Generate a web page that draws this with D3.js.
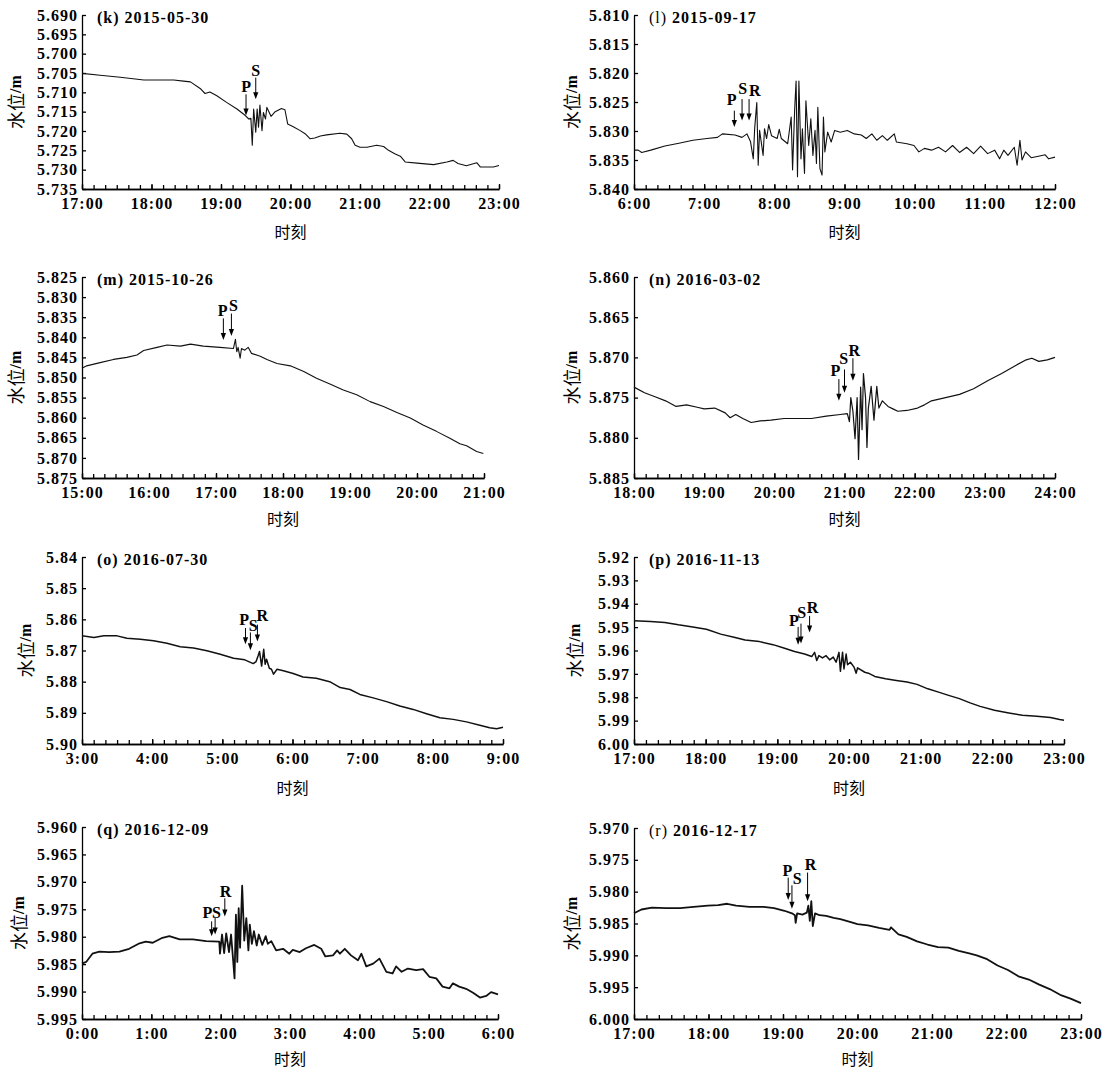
<!DOCTYPE html>
<html>
<head>
<meta charset="utf-8">
<script src="https://cdn.jsdelivr.net/npm/d3@7"></script>
<style>
  body { margin: 0; background: #fff; }
  svg { display: block; }
  .num, .tick text { font-family: "Liberation Serif", "Times New Roman", serif; font-weight: bold; font-size: 16px; letter-spacing: 1px; fill: #000; }
  .cjk { font-family: "Noto Sans CJK SC", sans-serif; font-weight: normal; }
</style>
</head>
<body>
<script>
'use strict';

// ---- water level records, [hour, metres] ----
var kSeries = [[17.00,5.7051],[17.26,5.7056],[17.55,5.7061],[17.89,5.7068],[18.32,5.7068],[18.46,5.7071],[18.56,5.7073],
  [18.70,5.7090],[18.77,5.7103],[18.84,5.7099],[18.94,5.7109],[19.08,5.7126],[19.23,5.7143],[19.35,5.7160],[19.40,5.7169],
  [19.43,5.7167],[19.45,5.7237],[19.47,5.7143],[19.50,5.7203],[19.52,5.7143],[19.54,5.7190],[19.56,5.7133],[19.59,5.7199],
  [19.61,5.7152],[19.64,5.7169],[19.66,5.7139],[19.72,5.7162],[19.78,5.7150],[19.87,5.7142],[19.92,5.7145],[19.96,5.7182],
  [20.04,5.7189],[20.14,5.7199],[20.21,5.7207],[20.28,5.7220],[20.35,5.7218],[20.43,5.7213],[20.52,5.7210],[20.71,5.7206],
  [20.81,5.7208],[20.88,5.7220],[20.93,5.7237],[21.00,5.7242],[21.10,5.7242],[21.24,5.7237],[21.34,5.7240],[21.41,5.7250],
  [21.50,5.7259],[21.58,5.7265],[21.65,5.7280],[21.82,5.7283],[22.06,5.7287],[22.25,5.7280],[22.34,5.7276],[22.41,5.7284],
  [22.53,5.7290],[22.68,5.7282],[22.73,5.7293],[22.92,5.7293],[23.00,5.7289]];

var lSeries = [[6.00,5.8333],[6.06,5.8333],[6.11,5.8337],[6.24,5.8333],[6.44,5.8326],[6.64,5.8321],[6.84,5.8316],[7.04,5.8313],
  [7.19,5.8311],[7.26,5.8305],[7.44,5.8307],[7.54,5.8311],[7.61,5.8305],[7.66,5.8318],[7.70,5.8348],[7.72,5.8295],[7.75,5.8251],
  [7.77,5.8359],[7.79,5.8299],[7.84,5.8342],[7.86,5.8296],[7.89,5.8313],[7.92,5.8289],[7.96,5.8308],[8.04,5.8313],[8.07,5.8297],
  [8.10,5.8313],[8.19,5.8322],[8.24,5.8276],[8.26,5.8367],[8.29,5.8262],[8.31,5.8214],[8.33,5.8379],[8.35,5.8214],[8.38,5.8348],
  [8.40,5.8296],[8.43,5.8373],[8.45,5.8248],[8.49,5.8325],[8.52,5.8279],[8.55,5.8342],[8.58,5.8299],[8.60,5.8356],[8.62,5.8259],
  [8.65,5.8365],[8.68,5.8376],[8.70,5.8276],[8.72,5.8336],[8.76,5.8302],[8.81,5.8319],[8.86,5.8299],[8.94,5.8302],[9.04,5.8299],
  [9.14,5.8305],[9.24,5.8307],[9.31,5.8313],[9.39,5.8305],[9.46,5.8316],[9.54,5.8308],[9.61,5.8316],[9.71,5.8305],[9.74,5.8319],
  [9.89,5.8322],[9.99,5.8325],[10.06,5.8336],[10.14,5.8330],[10.24,5.8333],[10.34,5.8328],[10.44,5.8336],[10.54,5.8325],
  [10.64,5.8337],[10.74,5.8328],[10.84,5.8339],[10.94,5.8326],[11.04,5.8339],[11.14,5.8333],[11.21,5.8348],[11.27,5.8333],
  [11.33,5.8342],[11.42,5.8328],[11.46,5.8359],[11.50,5.8316],[11.53,5.8350],[11.58,5.8336],[11.66,5.8346],[11.78,5.8343],
  [11.86,5.8341],[11.91,5.8348],[12.00,5.8345]];

var mSeries = [[15.00,5.8477],[15.07,5.8471],[15.27,5.8463],[15.47,5.8455],[15.67,5.8450],[15.82,5.8444],[15.92,5.8433],
  [16.12,5.8425],[16.27,5.8419],[16.47,5.8422],[16.62,5.8417],[16.81,5.8422],[17.06,5.8425],[17.26,5.8428],[17.29,5.8405],
  [17.31,5.8436],[17.33,5.8425],[17.36,5.8452],[17.38,5.8428],[17.43,5.8432],[17.48,5.8425],[17.53,5.8440],[17.66,5.8447],
  [17.76,5.8455],[17.91,5.8465],[18.11,5.8471],[18.31,5.8485],[18.50,5.8502],[18.70,5.8516],[18.90,5.8531],[19.10,5.8543],
  [19.30,5.8560],[19.50,5.8572],[19.70,5.8587],[19.90,5.8601],[20.09,5.8618],[20.29,5.8634],[20.49,5.8651],[20.64,5.8665],
  [20.74,5.8670],[20.89,5.8684],[20.99,5.8689]];

var nSeries = [[18.00,5.8737],[18.15,5.8744],[18.30,5.8749],[18.45,5.8754],[18.60,5.8761],[18.75,5.8759],[18.90,5.8762],
  [19.00,5.8764],[19.15,5.8763],[19.30,5.8769],[19.37,5.8775],[19.45,5.8771],[19.55,5.8776],[19.67,5.8781],[19.80,5.8779],
  [19.95,5.8778],[20.14,5.8776],[20.34,5.8776],[20.53,5.8776],[20.74,5.8773],[20.94,5.8771],[21.04,5.8770],[21.07,5.8780],
  [21.09,5.8750],[21.12,5.8767],[21.15,5.8801],[21.18,5.8750],[21.20,5.8827],[21.23,5.8737],[21.25,5.8790],[21.27,5.8720],
  [21.30,5.8750],[21.32,5.8812],[21.34,5.8763],[21.38,5.8736],[21.42,5.8778],[21.46,5.8736],[21.49,5.8763],[21.54,5.8754],
  [21.62,5.8761],[21.69,5.8764],[21.76,5.8767],[21.89,5.8766],[22.04,5.8763],[22.14,5.8759],[22.24,5.8754],[22.44,5.8750],
  [22.64,5.8746],[22.84,5.8739],[23.04,5.8729],[23.24,5.8720],[23.44,5.8710],[23.59,5.8703],[23.67,5.8701],[23.77,5.8705],
  [23.89,5.8703],[24.00,5.8700]];

var oSeries = [[3.00,5.8653],[3.17,5.8658],[3.31,5.8653],[3.50,5.8653],[3.64,5.8661],[3.83,5.8664],[4.02,5.8669],[4.21,5.8677],
  [4.40,5.8688],[4.59,5.8692],[4.78,5.8701],[4.97,5.8712],[5.16,5.8725],[5.32,5.8730],[5.44,5.8742],[5.48,5.8736],[5.51,5.8717],
  [5.53,5.8703],[5.56,5.8750],[5.59,5.8696],[5.61,5.8744],[5.63,5.8728],[5.67,5.8757],[5.70,5.8760],[5.73,5.8776],[5.78,5.8760],
  [5.87,5.8765],[6.01,5.8774],[6.15,5.8785],[6.34,5.8789],[6.53,5.8800],[6.68,5.8819],[6.82,5.8825],[6.96,5.8841],[7.15,5.8852],
  [7.34,5.8864],[7.53,5.8878],[7.72,5.8889],[7.91,5.8903],[8.10,5.8916],[8.29,5.8921],[8.48,5.8929],[8.67,5.8940],[8.81,5.8948],
  [8.91,5.8951],[9.00,5.8946]];

var pSeries = [[17.00,5.9473],[17.23,5.9476],[17.43,5.9480],[17.62,5.9490],[17.82,5.9499],[18.01,5.9509],[18.21,5.9530],
  [18.41,5.9544],[18.55,5.9555],[18.75,5.9562],[18.94,5.9575],[19.09,5.9589],[19.24,5.9604],[19.38,5.9615],[19.48,5.9626],
  [19.52,5.9608],[19.55,5.9643],[19.58,5.9622],[19.63,5.9632],[19.68,5.9622],[19.73,5.9640],[19.78,5.9628],[19.82,5.9650],
  [19.86,5.9608],[19.88,5.9689],[19.91,5.9608],[19.93,5.9679],[19.96,5.9615],[19.98,5.9661],[20.02,5.9650],[20.07,5.9671],
  [20.10,5.9697],[20.12,5.9674],[20.22,5.9693],[20.27,5.9697],[20.36,5.9711],[20.51,5.9721],[20.66,5.9728],[20.81,5.9735],
  [20.95,5.9745],[21.10,5.9764],[21.25,5.9778],[21.39,5.9792],[21.54,5.9806],[21.69,5.9824],[21.83,5.9839],[22.03,5.9856],
  [22.23,5.9867],[22.42,5.9877],[22.62,5.9881],[22.81,5.9887],[22.94,5.9895],[23.00,5.9898]];

var qSeries = [[0.00,5.9849],[0.06,5.9846],[0.15,5.9831],[0.25,5.9827],[0.39,5.9828],[0.54,5.9827],[0.68,5.9822],[0.83,5.9812],
  [0.92,5.9809],[1.02,5.9811],[1.16,5.9802],[1.26,5.9799],[1.41,5.9805],[1.60,5.9805],[1.79,5.9808],[1.98,5.9809],[1.99,5.9831],
  [2.02,5.9796],[2.05,5.9830],[2.08,5.9794],[2.12,5.9828],[2.15,5.9796],[2.18,5.9843],[2.20,5.9876],[2.22,5.9760],[2.24,5.9846],
  [2.26,5.9748],[2.28,5.9820],[2.31,5.9707],[2.34,5.9807],[2.37,5.9766],[2.40,5.9825],[2.42,5.9778],[2.45,5.9813],[2.48,5.9790],
  [2.52,5.9816],[2.55,5.9796],[2.60,5.9815],[2.65,5.9799],[2.68,5.9813],[2.73,5.9808],[2.80,5.9825],[2.90,5.9822],[2.99,5.9831],
  [3.04,5.9824],[3.14,5.9828],[3.23,5.9821],[3.35,5.9815],[3.45,5.9822],[3.51,5.9836],[3.62,5.9834],[3.68,5.9825],[3.72,5.9831],
  [3.79,5.9822],[3.88,5.9834],[3.98,5.9843],[4.03,5.9831],[4.10,5.9854],[4.20,5.9849],[4.29,5.9840],[4.39,5.9864],[4.48,5.9867],
  [4.53,5.9854],[4.61,5.9864],[4.70,5.9858],[4.82,5.9861],[4.92,5.9859],[5.01,5.9873],[5.11,5.9876],[5.20,5.9891],[5.30,5.9894],
  [5.35,5.9885],[5.44,5.9891],[5.54,5.9895],[5.64,5.9902],[5.74,5.9911],[5.83,5.9908],[5.90,5.9901],[6.00,5.9905]];

var rSeries = [[17.00,5.9834],[17.10,5.9828],[17.24,5.9825],[17.43,5.9826],[17.62,5.9826],[17.80,5.9824],[17.99,5.9822],
  [18.13,5.9821],[18.25,5.9819],[18.37,5.9822],[18.55,5.9824],[18.74,5.9824],[18.88,5.9826],[19.02,5.9830],[19.12,5.9834],
  [19.16,5.9837],[19.17,5.9849],[19.19,5.9834],[19.26,5.9836],[19.32,5.9833],[19.34,5.9822],[19.36,5.9846],[19.38,5.9815],
  [19.40,5.9854],[19.43,5.9834],[19.49,5.9837],[19.58,5.9838],[19.68,5.9841],[19.77,5.9843],[19.91,5.9848],[20.00,5.9851],
  [20.14,5.9853],[20.29,5.9857],[20.43,5.9860],[20.45,5.9856],[20.55,5.9867],[20.66,5.9871],[20.80,5.9878],[20.94,5.9883],
  [21.08,5.9887],[21.22,5.9888],[21.36,5.9893],[21.50,5.9897],[21.60,5.9900],[21.74,5.9906],[21.88,5.9916],[22.02,5.9923],
  [22.16,5.9933],[22.30,5.9938],[22.44,5.9946],[22.58,5.9953],[22.72,5.9962],[22.86,5.9968],[23.00,5.9975]];

// ---- phase arrivals: label, hour, arrow top, arrow tip, label hour, label level ----
var kMarks = [['P',19.36,5.7105,5.7160,19.36,5.7085],['S',19.50,5.7062,5.7118,19.50,5.7043]];
var lMarks = [['P',7.43,5.8265,5.8293,7.39,5.8245],['S',7.54,5.8245,5.8282,7.55,5.8227],['R',7.64,5.8245,5.8282,7.72,5.8231]];
var mMarks = [['P',17.11,5.8353,5.8407,17.10,5.8334],['S',17.23,5.8341,5.8397,17.26,5.8320]];
var nMarks = [['P',20.92,5.8727,5.8754,20.87,5.8716],['S',21.00,5.8715,5.8744,20.99,5.8701],['R',21.12,5.8701,5.8729,21.14,5.8691]];
var oMarks = [['P',5.33,5.8628,5.8680,5.31,5.8601],['S',5.40,5.8642,5.8699,5.44,5.8620],['R',5.50,5.8617,5.8671,5.57,5.8588]];
var pMarks = [['P',19.29,5.9499,5.9575,19.23,5.9473],['S',19.33,5.9485,5.9570,19.34,5.9438],['R',19.45,5.9452,5.9523,19.49,5.9417]];
var qMarks = [['P',1.87,5.9772,5.9799,1.81,5.9755],['S',1.92,5.9766,5.9796,1.94,5.9755],['R',2.06,5.9730,5.9763,2.07,5.9717]];
var rMarks = [['P',19.07,5.9778,5.9813,19.06,5.9766],['S',19.12,5.9790,5.9827,19.19,5.9779],['R',19.33,5.9770,5.9815,19.37,5.9758]];

// ---- axes ----
var kHours = [17,18,19,20,21,22,23];
var lHours = [6,7,8,9,10,11,12];
var mHours = [15,16,17,18,19,20,21];
var nHours = [18,19,20,21,22,23,24];
var oHours = [3,4,5,6,7,8,9];
var pHours = [17,18,19,20,21,22,23];
var qHours = [0,1,2,3,4,5,6];
var rHours = [17,18,19,20,21,22,23];

var kYTicks = [5.690,5.695,5.700,5.705,5.710,5.715,5.720,5.725,5.730,5.735];
var lYTicks = [5.810,5.815,5.820,5.825,5.830,5.835,5.840];
var mYTicks = [5.825,5.830,5.835,5.840,5.845,5.850,5.855,5.860,5.865,5.870,5.875];
var nYTicks = [5.860,5.865,5.870,5.875,5.880,5.885];
var oYTicks = [5.84,5.85,5.86,5.87,5.88,5.89,5.90];
var pYTicks = [5.92,5.93,5.94,5.95,5.96,5.97,5.98,5.99,6.00];
var qYTicks = [5.960,5.965,5.970,5.975,5.980,5.985,5.990,5.995];
var rYTicks = [5.970,5.975,5.980,5.985,5.990,5.995,6.000];

var panelTags = ['k','l','m','n','o','p','q','r'];
var panelDates = ['2015-05-30','2015-09-17','2015-10-26','2016-03-02','2016-07-30','2016-11-13','2016-12-09','2016-12-17'];

// ---- layout ----
var W = 1109, H = 1071;
var svg = d3.select('body').append('svg').attr('width', W).attr('height', H);

var panels = [
  {series: kSeries, marks: kMarks, hours: kHours, yt: kYTicks, fmt: '.3f', box: [82, 499, 15, 189], ylab: 15, xlab: 42, sw: 1.1},
  {series: lSeries, marks: lMarks, hours: lHours, yt: lYTicks, fmt: '.3f', box: [634, 1055, 15, 189], ylab: 571, xlab: 42, sw: 1.1},
  {series: mSeries, marks: mMarks, hours: mHours, yt: mYTicks, fmt: '.3f', box: [82, 484, 277, 478], ylab: 15, xlab: 40, sw: 1.1},
  {series: nSeries, marks: nMarks, hours: nHours, yt: nYTicks, fmt: '.3f', box: [634, 1055, 277, 478], ylab: 571, xlab: 40, sw: 1.2},
  {series: oSeries, marks: oMarks, hours: oHours, yt: oYTicks, fmt: '.2f', box: [82, 503, 557, 744], ylab: 25, xlab: 43, sw: 1.5},
  {series: pSeries, marks: pMarks, hours: pHours, yt: pYTicks, fmt: '.2f', box: [634, 1064, 557, 744], ylab: 574, xlab: 43, sw: 1.5},
  {series: qSeries, marks: qMarks, hours: qHours, yt: qYTicks, fmt: '.3f', box: [82, 498, 827, 1019], ylab: 18, xlab: 39, sw: 1.8},
  {series: rSeries, marks: rMarks, hours: rHours, yt: rYTicks, fmt: '.3f', box: [634, 1081, 828, 1019], ylab: 571, xlab: 39, sw: 1.8}
];

var hourLabel = function(h) { return h + ':00'; };

panels.forEach(function(p, i) {
  var g = svg.append('g');
  var h0 = p.hours[0], h1 = p.hours[p.hours.length - 1];
  var x = d3.scaleLinear().domain([h0, h1]).range([p.box[0], p.box[1]]);
  // depth axis: shallow level at the top
  var y = d3.scaleLinear().domain([p.yt[0], p.yt[p.yt.length - 1]]).range([p.box[2], p.box[3]]);

  var minor = d3.range(0, (h1 - h0) * 6 + 1).map(function(j) { return h0 + j / 6; });

  var xMinor = g.append('g').attr('transform', 'translate(0,' + p.box[3] + ')')
    .call(d3.axisBottom(x).tickValues(minor).tickSize(-4).tickSizeOuter(0).tickFormat(''));
  var xMajor = g.append('g').attr('transform', 'translate(0,' + p.box[3] + ')')
    .call(d3.axisBottom(x).tickValues(p.hours).tickSize(-5).tickSizeOuter(0).tickPadding(9).tickFormat(hourLabel));
  var yAx = g.append('g').attr('transform', 'translate(' + p.box[0] + ',0)')
    .call(d3.axisLeft(y).tickValues(p.yt).tickSize(-4).tickSizeOuter(0).tickPadding(4).tickFormat(d3.format(p.fmt)));

  [xMinor, xMajor, yAx].forEach(function(a) {
    a.selectAll('path, line').attr('stroke', '#000').attr('stroke-width', 1.3);
    a.selectAll('text').attr('font-family', null).attr('font-size', null);
  });

  g.append('path')
    .datum(p.series)
    .attr('fill', 'none')
    .attr('stroke', '#111')
    .attr('stroke-width', p.sw)
    .attr('stroke-linejoin', 'round')
    .attr('d', d3.line().x(function(d) { return x(d[0]); }).y(function(d) { return y(d[1]); }));

  // arrival arrows
  p.marks.forEach(function(m) {
    var ax = x(m[1]), top = y(m[2]), tip = y(m[3]);
    g.append('line').attr('x1', ax).attr('x2', ax).attr('y1', top).attr('y2', tip - 5)
      .attr('stroke', '#000').attr('stroke-width', 1);
    g.append('path').attr('d', 'M' + (ax - 2.6) + ',' + (tip - 7) + 'L' + (ax + 2.6) + ',' + (tip - 7) + 'L' + ax + ',' + tip + 'Z')
      .attr('fill', '#000');
    g.append('text').attr('class', 'num').attr('x', x(m[4])).attr('y', y(m[5]))
      .attr('text-anchor', 'middle').attr('dominant-baseline', 'central').style('letter-spacing', '0px')
      .text(m[0]);
  });

  // title
  var t = g.append('text').attr('class', 'num').attr('x', p.box[0] + 15).attr('y', p.box[2] + 8);
  var tag = panelTags[i];
  t.append('tspan').style('font-weight', (tag === 'l' || tag === 'r') ? 'normal' : 'bold').text('(' + tag + ')');
  t.append('tspan').text(' ' + panelDates[i]);

  // axis titles
  g.append('text').attr('class', 'cjk').attr('x', (p.box[0] + p.box[1]) / 2).attr('y', p.box[3] + p.xlab)
    .attr('text-anchor', 'middle').attr('dominant-baseline', 'central').attr('font-size', 16).text('时刻');

  var yl = g.append('text').attr('transform', 'translate(' + p.ylab + ',' + ((p.box[2] + p.box[3]) / 2) + ') rotate(-90)')
    .attr('text-anchor', 'middle').attr('dominant-baseline', 'central');
  yl.append('tspan').attr('class', 'cjk').attr('font-size', 18).text('水位');
  yl.append('tspan').attr('class', 'num').style('letter-spacing', '0px').attr('font-size', 16).text('/m');
});
</script>
</body>
</html>
